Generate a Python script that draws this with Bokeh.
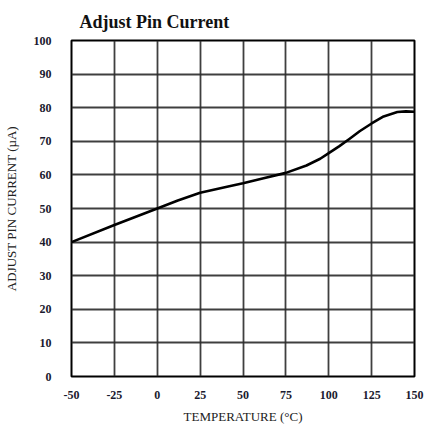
from bokeh.plotting import figure
from bokeh.models import FixedTicker, Range1d
from bokeh.embed import file_html
from bokeh.resources import INLINE

temperature_c = [-50, -25, 0, 12, 25, 42, 50, 62, 75, 87, 95, 100, 106, 112, 118, 125, 132, 140, 145, 150]
adjust_current_ua = [40, 45.1, 50, 52.4, 54.7, 56.6, 57.5, 59.0, 60.6, 62.8, 64.8, 66.5, 68.5, 70.7,
                     73.0, 75.3, 77.4, 78.7, 78.9, 78.8]

x_ticks = [-50, -25, 0, 25, 50, 75, 100, 125, 150]
y_ticks = [0, 10, 20, 30, 40, 50, 60, 70, 80, 90, 100]

SERIF = "Liberation Serif"

p = figure(frame_width=343, frame_height=336, output_backend="svg", toolbar_location=None,
           x_range=Range1d(-50, 150), y_range=Range1d(0, 100),
           min_border_left=64, min_border_right=11, min_border_top=33, min_border_bottom=45,
           title="Adjust Pin Current")

p.title.text_font = SERIF
p.title.text_font_style = "bold"
p.title.text_font_size = "18px"
p.title.text_color = "#111111"
p.title.offset = 8
p.title.standoff = 18

p.line(temperature_c, adjust_current_ua, line_color="black", line_width=2.6, line_join="round")

p.xaxis.ticker = FixedTicker(ticks=x_ticks)
p.yaxis.ticker = FixedTicker(ticks=y_ticks)
p.xaxis.major_label_overrides = {t: str(t) for t in x_ticks}

for ax in (p.xaxis, p.yaxis):
    ax.axis_line_color = None
    ax.major_tick_line_color = None
    ax.minor_tick_line_color = None
    ax.major_label_text_font = SERIF
    ax.major_label_text_font_style = "bold"
    ax.major_label_text_font_size = "12px"
    ax.major_label_text_color = "#1a1a2e"
    ax.axis_label_text_font = SERIF
    ax.axis_label_text_font_style = "normal"
    ax.axis_label_text_font_size = "13px"
    ax.axis_label_text_color = "#222222"

p.xaxis.axis_label = "TEMPERATURE (°C)"
p.yaxis.axis_label = "ADJUST PIN CURRENT (µA)"
p.xaxis.major_label_standoff = 8
p.yaxis.major_label_standoff = 14
p.xaxis.axis_label_standoff = 7
p.yaxis.axis_label_standoff = 12

p.xgrid.ticker = FixedTicker(ticks=x_ticks)
p.ygrid.ticker = FixedTicker(ticks=y_ticks)
for g in (p.xgrid, p.ygrid):
    g.grid_line_color = "#2a2a2a"
    g.grid_line_width = 1.8
    g.grid_line_alpha = 0.9

p.outline_line_color = "black"
p.outline_line_width = 2
p.background_fill_color = "white"
p.border_fill_color = "white"

open("out.html", "w").write(file_html(p, INLINE))
